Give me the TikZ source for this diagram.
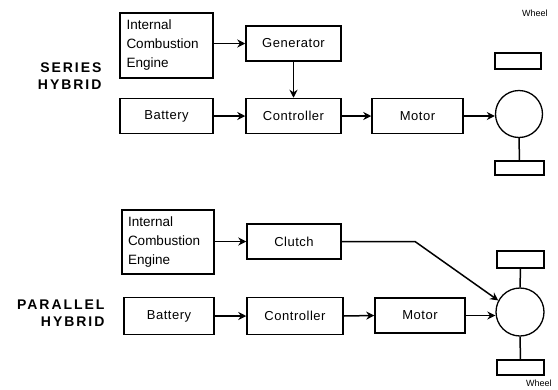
\documentclass[tikz,border=0pt]{standalone}
\usepackage{fontspec}
\setmainfont{Liberation Sans}
\usetikzlibrary{arrows.meta}
\begin{document}
\begin{tikzpicture}[x=1pt,y=-1pt,
  box/.style={draw,line width=1.5pt,inner sep=0pt,font=\fontsize{13}{15}\selectfont\addfontfeature{LetterSpace=4}},
  icebox/.style={draw,line width=1.5pt,inner sep=0pt,align=left,font=\fontsize{13.5}{19}\selectfont},
  wheel/.style={draw,circle,line width=1.3pt,inner sep=0pt,minimum size=47pt},
  tyre/.style={draw,line width=1.5pt,inner sep=0pt},
  conn/.style={line width=1.5pt},
  arr/.style={line width=1.5pt,-{Stealth[length=8pt,width=8pt]}},
  side/.style={font=\fontsize{14}{17}\selectfont\bfseries\addfontfeature{LetterSpace=14},align=right,anchor=east},
  lbl/.style={font=\fontsize{9}{10}\selectfont,anchor=west,inner sep=0pt}]
\useasboundingbox (0,0) rectangle (558,389);
% ---- Series hybrid ----
\node[side] (sh) at (105,76) {SERIES\\HYBRID};
\node[icebox,minimum width=93pt,minimum height=65pt,text width=80pt] (ice1) at (166.5,45.5) {Internal\\Combustion\\Engine};
\node[box,minimum width=95pt,minimum height=35pt] (gen) at (293.5,43.5) {Generator};
\node[box,minimum width=93pt,minimum height=35pt] (bat1) at (166.5,116) {Battery};
\node[box,minimum width=95pt,minimum height=35pt] (ctl1) at (293.5,116) {Controller};
\node[box,minimum width=91pt,minimum height=35pt] (mot1) at (417.5,116) {Motor};
\node[wheel] (whl1) at (519,114) {};
\node[tyre,minimum width=46pt,minimum height=16pt] (wt1) at (518,61) {};
\node[tyre,minimum width=49pt,minimum height=14pt] (wb1) at (519.5,168) {};
\node[lbl] (wl1) at (522,13) {Wheel};
\draw[arr] (ice1.east |- gen.west) -- (gen.west);
\draw[arr] (gen.south) -- (ctl1.north);
\draw[arr] (bat1.east) -- (ctl1.west);
\draw[arr] (ctl1.east) -- (mot1.west);
\draw[arr] (mot1.east) -- (whl1.west |- mot1.east);
\draw[conn] (whl1.south) -- (wb1.north);
% ---- Parallel hybrid ----
\node[side] (ph) at (108,313) {PARALLEL\\HYBRID};
\node[icebox,minimum width=92pt,minimum height=64pt,text width=80pt] (ice2) at (168,242) {Internal\\Combustion\\Engine};
\node[box,minimum width=94pt,minimum height=35pt] (clu) at (294,241.5) {Clutch};
\node[box,minimum width=90pt,minimum height=37pt] (bat2) at (169,316) {Battery};
\node[box,minimum width=96pt,minimum height=37pt] (ctl2) at (295,316) {Controller};
\node[box,minimum width=90pt,minimum height=35pt] (mot2) at (420,315.5) {Motor};
\node[wheel,minimum size=48pt] (whl2) at (520,312) {};
\node[tyre,minimum width=47pt,minimum height=17pt] (wt2) at (520.5,259.5) {};
\node[tyre,minimum width=47pt,minimum height=15pt] (wb2) at (520.5,367.5) {};
\node[lbl] (wl2) at (526,383) {Wheel};
\coordinate (bend) at (415,241.5);
\draw[arr] (ice2.east |- clu.west) -- (clu.west);
\draw[arr] (clu.east) -- (bend) -- (whl2.152);
\draw[arr] (bat2.east) -- (ctl2.west);
\draw[arr] (ctl2.east) -- (mot2.west);
\draw[arr] (mot2.east) -- (whl2.west |- mot2.east);
\draw[conn] (wt2.south) -- (whl2.north);
\draw[conn] (whl2.south) -- (wb2.north);
\end{tikzpicture}
\end{document}
